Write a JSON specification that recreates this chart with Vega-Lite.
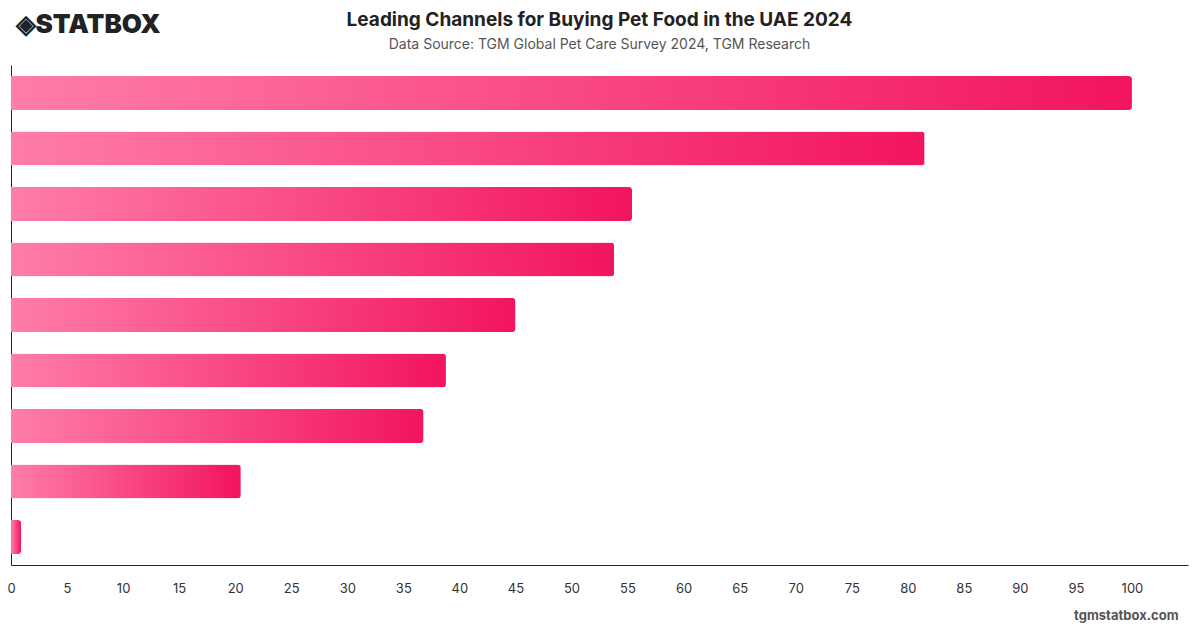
{
  "$schema": "https://vega.github.io/schema/vega-lite/v6.json",
  "width": 1177,
  "height": 500,
  "autosize": {"type": "none"},
  "padding": {"left": 11, "top": 65, "right": 12, "bottom": 63},
  "background": "white",
  "title": {
    "text": "Leading Channels for Buying Pet Food in the UAE 2024",
    "subtitle": "Data Source: TGM Global Pet Care Survey 2024, TGM Research",
    "anchor": "middle",
    "font": "Inter",
    "fontSize": 19,
    "fontWeight": "bold",
    "color": "#222222",
    "subtitleFont": "Inter",
    "subtitleFontSize": 14,
    "subtitleColor": "#555555",
    "subtitlePadding": 8,
    "offset": -41
  },
  "data": {
    "values": [
      {"channel": "Channel 1", "value": 100},
      {"channel": "Channel 2", "value": 81.5},
      {"channel": "Channel 3", "value": 55.4},
      {"channel": "Channel 4", "value": 53.8},
      {"channel": "Channel 5", "value": 45},
      {"channel": "Channel 6", "value": 38.8},
      {"channel": "Channel 7", "value": 36.8},
      {"channel": "Channel 8", "value": 20.5},
      {"channel": "Channel 9", "value": 0.9}
    ]
  },
  "mark": {
    "type": "bar",
    "cornerRadiusEnd": 3,
    "color": {
      "gradient": "linear",
      "x1": 0, "x2": 1, "y1": 0, "y2": 0,
      "stops": [
        {"offset": 0, "color": "#ff7da8"},
        {"offset": 1, "color": "#f2145f"}
      ]
    }
  },
  "encoding": {
    "y": {
      "field": "channel",
      "type": "nominal",
      "sort": "-x",
      "scale": {"paddingInner": 0.39, "paddingOuter": 0.2},
      "axis": {
        "title": "◈STATBOX",
        "titleAngle": 0,
        "titleX": 4,
        "titleY": -33,
        "titleAlign": "left",
        "titleBaseline": "alphabetic",
        "titleFont": "Inter",
        "titleFontSize": 26,
        "titleFontWeight": 900,
        "titleColor": "#222222",
        "labels": false,
        "ticks": false,
        "domainColor": "#222222",
        "domainWidth": 1
      }
    },
    "x": {
      "field": "value",
      "type": "quantitative",
      "scale": {"domain": [0, 105], "nice": false},
      "axis": {
        "values": [0,5,10,15,20,25,30,35,40,45,50,55,60,65,70,75,80,85,90,95,100],
        "grid": false,
        "ticks": false,
        "labelPadding": 17,
        "labelFont": "Inter",
        "labelFontSize": 13,
        "labelColor": "#333333",
        "labelFlush": false,
        "domainColor": "#222222",
        "domainWidth": 1,
        "title": "tgmstatbox.com",
        "titleX": 1167,
        "titleY": 54,
        "titleAlign": "right",
        "titleBaseline": "alphabetic",
        "titleFont": "Inter",
        "titleFontSize": 13,
        "titleFontWeight": "bold",
        "titleColor": "#555555"
      }
    }
  },
  "config": {"view": {"stroke": null}}
}
